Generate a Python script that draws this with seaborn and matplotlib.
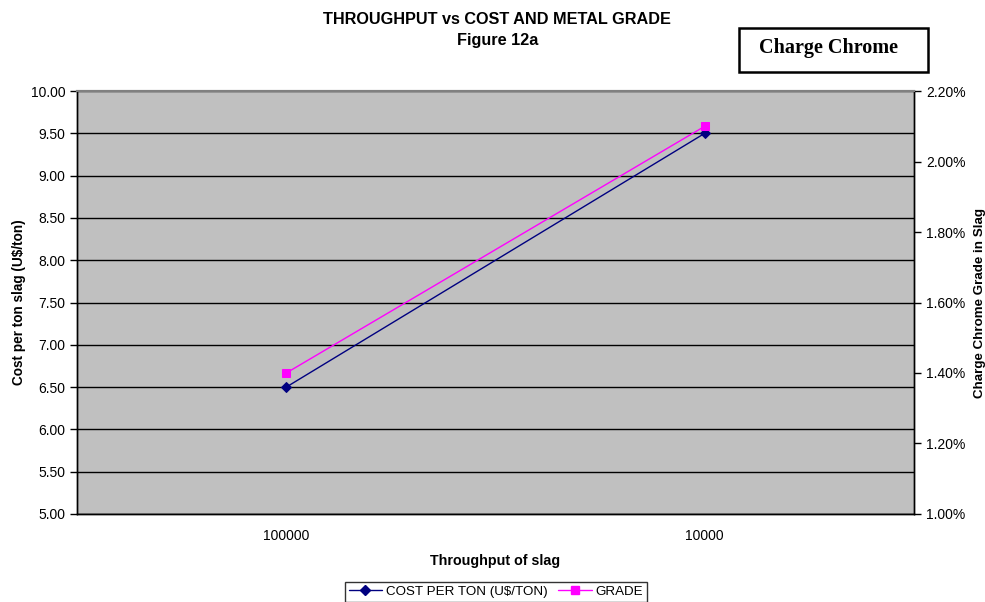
import matplotlib
matplotlib.use("Agg")
import matplotlib.pyplot as plt
import matplotlib.ticker as mticker
import seaborn as sns
import pandas as pd
from matplotlib.lines import Line2D
from matplotlib.patches import Rectangle

# Data
throughput = ["100000", "10000"]
cost_per_ton = [6.50, 9.50]
grade_pct = [1.40, 2.10]

sns.set_style("white")
plt.rcParams["font.family"] = ["Liberation Sans", "DejaVu Sans"]
plt.rcParams["text.color"] = "black"
plt.rcParams["axes.labelcolor"] = "black"
plt.rcParams["xtick.color"] = "black"
plt.rcParams["ytick.color"] = "black"

df = pd.DataFrame({"throughput": throughput, "cost": cost_per_ton, "grade": grade_pct})

fig = plt.figure(figsize=(9.85, 6.02), dpi=100)
ax = fig.add_axes([0.0782, 0.1462, 0.8497, 0.7026])
ax.set_facecolor("#C0C0C0")

navy = "#000080"
magenta = "#FF00FF"

sns.lineplot(data=df, x="throughput", y="cost", ax=ax, color=navy, lw=1.0,
             marker="D", markersize=5, markeredgecolor=navy, zorder=4)
ax.set_ylim(5.0, 10.0)
ax.set_xlim(-0.5, 1.5)
ax.yaxis.set_major_locator(mticker.MultipleLocator(0.5))
ax.yaxis.set_major_formatter(mticker.FormatStrFormatter("%.2f"))
ax.grid(axis="y", color="black", lw=1.0)
ax.set_axisbelow(True)

ax2 = ax.twinx()
sns.lineplot(data=df, x="throughput", y="grade", ax=ax2, color=magenta, lw=1.0,
             marker="s", markersize=6, markeredgecolor=magenta, zorder=4)
ax2.set_ylim(1.0, 2.2)
ax2.yaxis.set_major_locator(mticker.MultipleLocator(0.2))
ax2.yaxis.set_major_formatter(mticker.FuncFormatter(lambda v, p: f"{v:.2f}%"))
ax2.set_xlim(-0.5, 1.5)

# Category ticks: labels at centers, tick marks at category boundaries
for a in (ax, ax2):
    a.set_xticks([0, 1])
    a.set_xticks([-0.5, 0.5, 1.5], minor=True)
ax.tick_params(axis="x", which="major", length=0, pad=11, labelsize=10)
ax.tick_params(axis="x", which="minor", length=5, width=1, color="black", direction="out")
ax.tick_params(axis="y", length=5, width=1, color="black", direction="out", labelsize=10, left=True)
ax2.tick_params(axis="y", length=5, width=1, color="black", direction="out", labelsize=10, right=True)
ax2.tick_params(axis="x", which="both", length=0)

for a in (ax, ax2):
    for side in ("left", "right", "bottom"):
        a.spines[side].set_color("black")
        a.spines[side].set_linewidth(1.0)
    a.spines["top"].set_color("#808080")
    a.spines["top"].set_linewidth(1.5)

ax.set_xlabel("Throughput of slag", fontsize=10.3, fontweight="bold", labelpad=8)
ax.set_ylabel("Cost per ton slag (U$/ton)", fontsize=9.8, fontweight="bold", labelpad=3)
ax2.set_ylabel("Charge Chrome Grade in Slag", fontsize=9.6, fontweight="bold", labelpad=6)

fig.text(0.505, 0.968, "THROUGHPUT vs COST AND METAL GRADE", ha="center", va="center",
         fontsize=11.7, fontweight="bold")
fig.text(0.505, 0.933, "Figure 12a", ha="center", va="center",
         fontsize=11.7, fontweight="bold")

# Boxed annotation in the upper right
fig.patches.append(Rectangle((0.7503, 0.8804), 0.1919, 0.0731, transform=fig.transFigure,
                             facecolor="white", edgecolor="black", lw=1.8))
fig.text(0.8416, 0.920, "Charge Chrome", ha="center", va="center",
         fontsize=14.5, fontweight="bold", family=["Liberation Serif", "DejaVu Serif"])

handles = [
    Line2D([], [], color=navy, lw=1.0, marker="D", markersize=5, markeredgecolor=navy),
    Line2D([], [], color=magenta, lw=1.0, marker="s", markersize=6, markeredgecolor=magenta),
]
for a in (ax, ax2):
    if a.get_legend() is not None:
        a.get_legend().remove()
leg = fig.legend(handles, ["COST PER TON (U$/TON)", "GRADE"], loc="center",
                 bbox_to_anchor=(0.5035, 0.017), ncol=2, frameon=True, fancybox=False,
                 fontsize=9.6, handlelength=2.5, columnspacing=0.8, handletextpad=0.3,
                 borderpad=0.3, borderaxespad=0)
leg.get_frame().set_edgecolor("black")
leg.get_frame().set_linewidth(1.0)

fig.savefig("out.png", dpi=100)
